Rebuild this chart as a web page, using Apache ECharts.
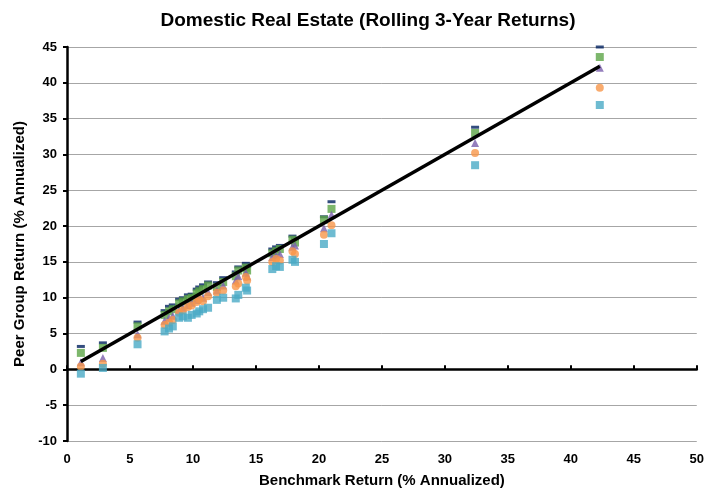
<!DOCTYPE html>
<html>
<head>
<meta charset="utf-8">
<title>Domestic Real Estate</title>
<script src="https://cdn.jsdelivr.net/npm/echarts@6/dist/echarts.min.js"></script>
<style>
  html, body { margin: 0; padding: 0; background: #fff; }
  #chart { width: 707px; height: 493px; }
</style>
</head>
<body>
<div id="chart"></div>
<script>
// benchmark return (x) for each rolling period
var benchmark = [1.1, 2.85, 5.6, 7.75, 8.1, 8.4, 8.9, 9.2, 9.6, 9.9, 10.3, 10.5, 10.8, 11.2, 11.9, 12.4, 13.4, 13.6, 14.2, 14.3, 16.3, 16.6, 16.9, 17.9, 18.1, 20.4, 21.0, 32.4, 42.3];

// peer group percentiles (y)
var pct5  = [3.2, 3.7, 6.6, 8.2, 8.8, 9.0, 9.8, 10.0, 10.4, 10.5, 11.2, 11.5, 11.8, 12.2, 12.1, 12.8, 13.6, 14.3, 14.8, 14.4, 16.8, 17.1, 17.3, 18.6, 18.2, 21.3, 23.4, 33.8, 45.0];
var pct25 = [2.3, 3.0, 6.0, 7.6, 8.1, 8.4, 9.2, 9.5, 9.8, 10.0, 10.6, 10.9, 11.2, 11.7, 11.5, 12.2, 13.0, 13.8, 14.2, 13.8, 16.2, 16.5, 16.8, 18.1, 17.7, 20.9, 22.4, 33.0, 43.6];
var pct50 = [1.0, 1.6, 4.9, 6.8, 7.2, 7.5, 8.3, 8.6, 9.0, 9.3, 9.7, 10.2, 10.0, 10.8, 11.0, 11.7, 12.4, 13.0, 13.5, 13.0, 15.7, 15.9, 16.1, 17.1, 17.3, 19.7, 21.6, 31.6, 42.1];
var pct75 = [0.4, 0.8, 4.4, 6.2, 6.5, 6.9, 7.9, 8.2, 8.7, 8.9, 9.4, 9.8, 9.5, 10.2, 10.7, 11.0, 11.6, 12.0, 12.9, 12.4, 15.0, 15.4, 15.2, 16.5, 16.1, 18.8, 20.1, 30.2, 39.3];
var pct95 = [-0.6, 0.2, 3.5, 5.3, 5.7, 6.0, 7.2, 7.4, 7.2, 7.6, 7.8, 8.1, 8.4, 8.6, 9.7, 10.0, 9.9, 10.4, 11.4, 11.0, 14.0, 14.4, 14.3, 15.3, 15.0, 17.5, 19.0, 28.5, 36.9];

var seriesNames = ['5th Percentile', '25th Percentile', 'Median', '75th Percentile', '95th Percentile'];
var xTicks = { min: 0, max: 50, interval: 5 };
var yTicks = { min: -10, max: 45, interval: 5 };

function pairs(ys) {
	return benchmark.map(function(x, i) { return [x, ys[i]]; });
}

var font = 'Arial, "Liberation Sans", sans-serif';
var lo = Math.min.apply(null, benchmark);
var hi = Math.max.apply(null, benchmark);

var myChart = echarts.init(document.getElementById('chart'));
var option = {
	animation: false,
	title: {
		text: 'Domestic Real Estate (Rolling 3-Year Returns)',
		left: 363,
		textAlign: 'center',
		top: 6,
		textStyle: { fontFamily: font, fontSize: 19, fontWeight: 'bold', color: '#000' }
	},
	grid: { left: 67, right: 10, top: 47, bottom: 50 },
	xAxis: [{
		type: 'value',
		min: xTicks.min, max: xTicks.max, interval: xTicks.interval,
		position: 'bottom',
		axisLine: { show: false, onZero: false },
		axisTick: { show: false },
		splitLine: { show: false },
		axisLabel: { margin: 12, color: '#000', fontFamily: font, fontSize: 13, fontWeight: 'bold' },
		name: 'Benchmark Return (% Annualized)',
		nameLocation: 'middle',
		nameGap: 32,
		nameTextStyle: { color: '#000', fontFamily: font, fontSize: 15, fontWeight: 'bold' }
	}, {
		// axis line drawn through y = 0
		type: 'value',
		min: xTicks.min, max: xTicks.max, interval: xTicks.interval,
		axisLine: { show: true, onZero: true, lineStyle: { color: '#000', width: 2.5 } },
		axisTick: { show: true, inside: false, length: 4, lineStyle: { color: '#000', width: 2 } },
		axisLabel: { show: false },
		splitLine: { show: false }
	}],
	yAxis: {
		type: 'value',
		min: yTicks.min, max: yTicks.max, interval: yTicks.interval,
		axisLine: { show: true, onZero: false, lineStyle: { color: '#000', width: 2.5 } },
		axisTick: { show: true, length: 4, lineStyle: { color: '#000', width: 2 } },
		splitLine: { show: true, lineStyle: { color: '#a6a6a6', width: 1 } },
		axisLabel: { margin: 10, color: '#000', fontFamily: font, fontSize: 13, fontWeight: 'bold' },
		name: 'Peer Group Return (% Annualized)',
		nameLocation: 'middle',
		nameGap: 39,
		nameTextStyle: { color: '#000', fontFamily: font, fontSize: 15, fontWeight: 'bold' }
	},
	series: [{
		name: seriesNames[0], type: 'scatter', data: pairs(pct5),
		symbol: 'rect', symbolSize: [8, 3],
		itemStyle: { color: '#00205f' }, z: 2
	}, {
		name: seriesNames[1], type: 'scatter', data: pairs(pct25),
		symbol: 'rect', symbolSize: 8,
		itemStyle: { color: '#5ca547' }, z: 3
	}, {
		name: seriesNames[2], type: 'scatter', data: pairs(pct50),
		symbol: 'triangle', symbolSize: 8,
		itemStyle: { color: '#7b5fad' }, z: 4
	}, {
		name: seriesNames[3], type: 'scatter', data: pairs(pct75),
		symbol: 'circle', symbolSize: 8,
		itemStyle: { color: '#f7964a' }, z: 5
	}, {
		name: seriesNames[4], type: 'scatter', data: pairs(pct95),
		symbol: 'rect', symbolSize: 8,
		itemStyle: { color: '#4aaac6' }, z: 6
	}, {
		// y = x reference line
		name: 'Benchmark', type: 'line', data: [[lo, lo], [hi, hi]],
		symbol: 'none', silent: true,
		lineStyle: { color: '#000', width: 3.5 }, z: 7
	}]
};
myChart.setOption(option);
</script>
</body>
</html>
